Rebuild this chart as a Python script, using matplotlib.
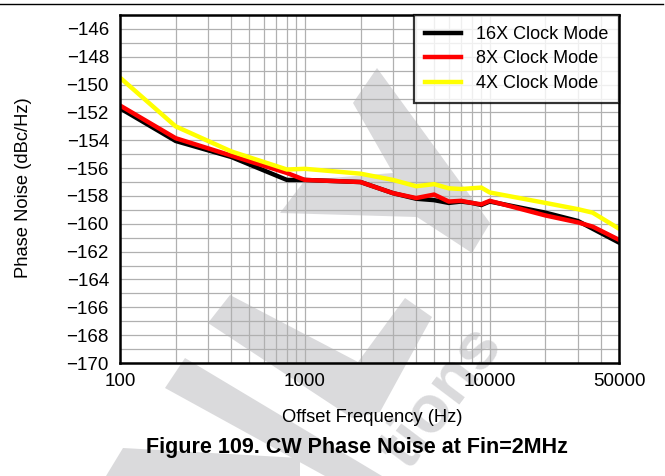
import matplotlib
matplotlib.use("Agg")
import matplotlib.pyplot as plt
from matplotlib.patches import Polygon
from matplotlib.lines import Line2D
from matplotlib.ticker import FixedLocator, NullFormatter, LogLocator

plt.rcParams['font.family'] = ['Liberation Sans', 'DejaVu Sans']

# ---- data ----
f16 = [100, 200, 400, 800, 1000, 2000, 3000, 4000, 5000, 6000, 7000, 8000, 9000, 10000, 20000, 30000, 50000]
v16 = [-151.7, -154.05, -155.2, -156.85, -156.85, -157.0, -157.8, -158.2, -158.3, -158.5, -158.4, -158.5, -158.65, -158.4, -159.2, -159.8, -161.35]

f8 = [100, 200, 400, 800, 1000, 2000, 3000, 4000, 5000, 6000, 7000, 8000, 9000, 10000, 20000, 30000, 36000, 50000]
v8 = [-151.5, -153.85, -155.1, -156.35, -156.85, -157.0, -157.8, -158.15, -157.9, -158.4, -158.35, -158.5, -158.6, -158.35, -159.4, -159.9, -160.2, -161.15]

f4 = [100, 200, 400, 800, 1000, 2000, 3000, 4000, 5000, 6000, 7000, 9000, 10000, 20000, 30000, 36000, 50000]
v4 = [-149.5, -153.0, -154.8, -156.1, -156.05, -156.4, -156.85, -157.3, -157.15, -157.45, -157.5, -157.4, -157.75, -158.5, -158.95, -159.2, -160.35]

series_names = ['16X Clock Mode', '8X Clock Mode', '4X Clock Mode']
series_colors = ['#000000', '#ff0000', '#ffff00']

xticks = [100, 1000, 10000, 50000]
xticklabels = ['100', '1000', '10000', '50000']
yticks = list(range(-170, -145, 2))
ylabels = ['\u2212%d' % abs(t) for t in yticks]

W, H = 665, 476
fig = plt.figure(figsize=(W / 100, H / 100), dpi=100)
ax = fig.add_axes([120 / W, 1 - 363 / H, (619 - 120) / W, (363 - 15) / H])
ax.set_facecolor('none')

# watermark (pixel coordinates -> figure fraction)
def px(pts):
    return [(x / W, 1 - y / H) for x, y in pts]

wm_color = '#dadadc'
shapes = [
    [(377, 68), (353, 103), (393, 173), (305, 180), (280, 213), (417, 217), (472, 253), (490, 223)],
    [(230, 295), (208, 323), (352, 418), (380, 412), (432, 317), (405, 298), (358, 362)],
    [(185, 358), (165, 388), (325, 476), (382, 476)],
    [(123, 448), (300, 458), (300, 476), (106, 476)],
]
for s in shapes:
    fig.patches.append(Polygon(px(s), closed=True, transform=fig.transFigure,
                               facecolor=wm_color, edgecolor='none', zorder=-5))
fig.text(442 / W, 1 - 398 / H, 'tions', rotation=53, color=wm_color, fontsize=48,
         fontweight='bold', ha='center', va='center', zorder=-5)

# top rule
fig.add_artist(Line2D([0, 663 / W], [1 - 4 / H, 1 - 4 / H], color='black', lw=1.0,
                      transform=fig.transFigure))

ax.plot(f16, v16, color=series_colors[0], lw=3.2, label=series_names[0], zorder=3, solid_joinstyle='miter')
ax.plot(f8, v8, color=series_colors[1], lw=3.2, label=series_names[1], zorder=4, solid_joinstyle='miter')
ax.plot(f4, v4, color=series_colors[2], lw=3.2, label=series_names[2], zorder=5, solid_joinstyle='miter')

ax.set_xscale('log')
ax.set_xlim(100, 50000)
ax.set_ylim(-170, -145)
ax.xaxis.set_major_locator(FixedLocator(xticks))
ax.set_xticklabels(xticklabels)
ax.xaxis.set_minor_locator(LogLocator(base=10, subs=range(1, 10), numticks=20))
ax.xaxis.set_minor_formatter(NullFormatter())
ax.set_yticks(yticks)
ax.set_yticklabels(ylabels)
ax.set_yticks(range(-170, -144), minor=True)

ax.grid(True, which='both', axis='both', color='#b0b0b0', lw=0.9)
ax.tick_params(which='both', length=0)
ax.tick_params(axis='y', labelsize=13.5, pad=8)
ax.tick_params(axis='x', labelsize=13.5, pad=7)
for sp in ax.spines.values():
    sp.set_linewidth(1.8)
    sp.set_color('black')
    sp.set_zorder(6)

fig.text(24 / W, 1 - 188 / H, 'Phase Noise (dBc/Hz)', rotation=90, ha='center', va='center', fontsize=13.2)
fig.text(372 / W, 1 - 418 / H, 'Offset Frequency (Hz)', ha='center', va='center', fontsize=13.2)
fig.text(357 / W, 1 - 447 / H, 'Figure 109. CW Phase Noise at Fin=2MHz', ha='center', va='center',
         fontsize=15.5, fontweight='bold')

leg = ax.legend(loc='upper right', fontsize=13, frameon=True, fancybox=False, borderaxespad=0,
                handlelength=2.0, handletextpad=0.8, labelspacing=0.42, borderpad=0.6)
leg.get_frame().set_edgecolor('black')
leg.get_frame().set_linewidth(1.6)
leg.set_zorder(7)

fig.savefig('out.png', dpi=100)
